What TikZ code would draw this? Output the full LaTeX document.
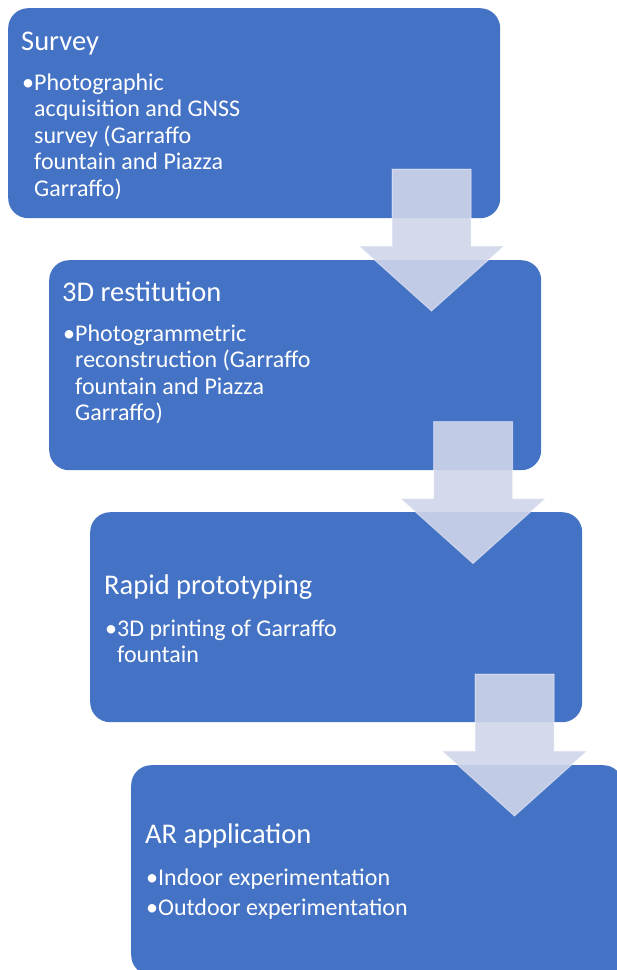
\documentclass[tikz,border=0pt]{standalone}
\usepackage{fontspec}
\setmainfont{Carlito}
\definecolor{boxblue}{HTML}{4472C4}
\definecolor{arrowfill}{RGB}{207,213,234}
\tikzset{
  stage/.style={fill=boxblue, rounded corners=20pt, minimum width=492pt, minimum height=210pt, anchor=north west, inner sep=0pt},
  chev/.style={fill=arrowfill, fill opacity=0.9, draw=white, draw opacity=0.45, line width=1pt},
  ttl/.style={text=white, font=\fontsize{28.5}{34}\selectfont, inner sep=0pt, anchor=base west},
  bul/.style={text=white, font=\fontsize{24}{26.5}\selectfont, inner sep=0pt, anchor=base west},
}
\newcommand{\downchev}[2]{%
  \path[chev] (#1+392,#2+169) -- (#1+471,#2+169) -- (#1+471,#2+246) -- (#1+504,#2+246)
    -- (#1+431.5,#2+311) -- (#1+359,#2+246) -- (#1+392,#2+246) -- cycle;}
\begin{document}
\begin{tikzpicture}[x=1pt,y=-1pt]
\useasboundingbox (0,0) rectangle (617,970);
\begin{scope}
\clip (0,0) rectangle (617,970);
% stage 1
\node[stage] (s1) at (8,8) {};
\node[ttl] (h1) at (21,50) {Survey};
\node[bul] (d1) at (22,90) {•};
\node[bul] (t1) at (34,90) {\parbox[t]{300pt}{\raggedright Photographic\\acquisition and GNSS\\survey (Garraffo\\fountain and Piazza\\Garraffo)}};
% stage 2
\node[stage] (s2) at (49,260) {};
\node[ttl] (h2) at (62,301) {3D restitution};
\node[bul] (d2) at (63,341) {•};
\node[bul] (t2) at (75,341) {\parbox[t]{300pt}{\raggedright Photogrammetric\\reconstruction (Garraffo\\fountain and Piazza\\Garraffo)}};
\downchev{0}{0}
% stage 3
\node[stage] (s3) at (90,512) {};
\node[ttl] (h3) at (104,594) {Rapid prototyping};
\node[bul] (d3) at (105,636) {•};
\node[bul] (t3) at (117,636) {\parbox[t]{300pt}{\raggedright 3D printing of Garraffo\\fountain}};
\downchev{41.5}{252.5}
% stage 4
\node[stage] (s4) at (131,765) {};
\node[ttl] (h4) at (145,843) {AR application};
\node[bul] (d4a) at (146,885) {•};
\node[bul] (t4a) at (158,885) {Indoor experimentation};
\node[bul] (d4b) at (146,915) {•};
\node[bul] (t4b) at (158,915) {Outdoor experimentation};
\downchev{83}{505}
\end{scope}
\end{tikzpicture}
\end{document}
